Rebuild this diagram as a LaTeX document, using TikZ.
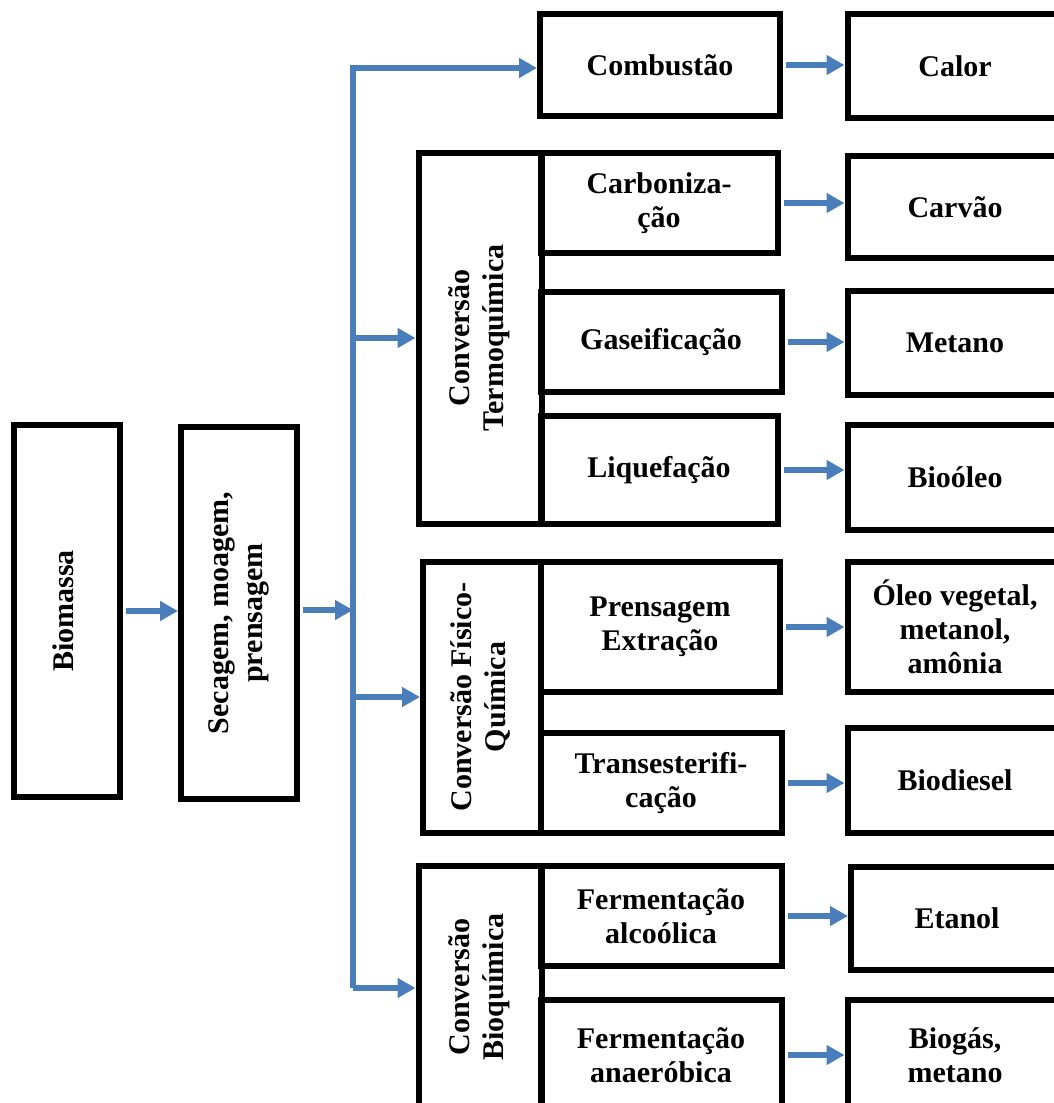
\documentclass[tikz,border=0pt]{standalone}
\usepackage{fontspec}
\setmainfont{Liberation Serif}
\usepackage{graphicx}
\usetikzlibrary{arrows.meta,positioning}
\definecolor{flowblue}{RGB}{74,126,187}
\newcommand{\vtext}[1]{\rotatebox{90}{\begin{tabular}{@{}c@{}}#1\end{tabular}}}

\begin{document}
\begin{tikzpicture}[x=1pt, y=-1pt, font=\fontsize{30}{34}\selectfont\bfseries]
    \tikzstyle{box}   = [draw, rectangle, line width=6pt, align=center, inner sep=0pt]
    \tikzstyle{stage} = [box, minimum width=240pt]
    \tikzstyle{prod}  = [box, minimum width=215pt]
    \tikzstyle{arrow} = [line width=6pt, flowblue, -{Triangle[length=18pt,width=19pt]}]

    \useasboundingbox (0,0) rectangle (1053,1103);

    % left chain
    \node [box, minimum width=106pt, minimum height=372pt] (bio) at (67,611) {\vtext{Biomassa}};
    \node [box, minimum width=116pt, minimum height=372pt] (sec) at (239,613) {\vtext{Secagem, moagem,\\prensagem}};

    % groups
    \node [box, minimum width=123pt, minimum height=371pt] (termo) at (480,338) {\vtext{Conversão\\Termoquímica}};
    \node [box, minimum width=118pt, minimum height=271pt] (fisqui) at (482,697) {\vtext{Conversão Físico-\\Química}};
    \node [box, minimum width=123pt, minimum height=242pt] (bioqui) at (480,987) {\vtext{Conversão\\Bioquímica}};

    % processes
    \node [stage, minimum height=102pt] (comb) at (660,65) {Combustão};
    \node [stage, minimum height=100pt, minimum width=237pt] (carb) at (659,203) {Carboniza-\\ção};
    \node [stage, minimum height=100pt, minimum width=241pt] (gas) at (661,342) {Gaseificação};
    \node [stage, minimum height=108pt, minimum width=237pt] (liq) at (659,470) {Liquefação};
    \node [stage, minimum height=130pt, minimum width=239pt] (prens) at (660,627) {Prensagem\\Extração};
    \node [stage, minimum height=100pt, minimum width=241pt] (trans) at (661,783) {Transesterifi-\\cação};
    \node [stage, minimum height=100pt, minimum width=241pt] (alco) at (661,916) {Fermentação\\alcoólica};
    \node [stage, minimum height=110pt, minimum width=241pt] (anae) at (661,1055) {Fermentação\\anaeróbica};

    % products
    \node [prod, minimum height=104pt] (calor) at (955,66) {Calor};
    \node [prod, minimum height=102pt] (carvao) at (955,207) {Carvão};
    \node [prod, minimum height=104pt] (metano) at (955,343) {Metano};
    \node [prod, minimum height=105pt] (bioleo) at (955,477) {Bioóleo};
    \node [prod, minimum height=130pt] (oleo) at (955,627) {Óleo vegetal,\\metanol,\\amônia};
    \node [prod, minimum height=105pt] (diesel) at (955,780) {Biodiesel};
    \node [prod, minimum height=103pt, minimum width=212pt] (etanol) at (957,918) {Etanol};
    \node [prod, minimum height=110pt] (biogas) at (955,1055) {Biogás,\\metano};

    % bus
    \coordinate (hub) at (353,610);
    \coordinate (bustop) at (353,68);
    \coordinate (busbot) at (353,988);

    \draw [arrow, shorten <=3pt] (bio.east) -- (sec.west |- bio.east);
    \draw [arrow, shorten <=3pt] (sec.east |- hub) -- (hub);
    \draw [arrow] (busbot) -- (bustop) -- (bustop -| comb.west);
    \draw [arrow] (hub |- termo.west) -- (termo.west);
    \draw [arrow] (hub |- fisqui.west) -- (fisqui.west);
    \draw [arrow] (busbot) -- (busbot -| bioqui.west);

    \draw [arrow, shorten <=3pt] (comb.east) -- (comb.east -| calor.west);
    \draw [arrow, shorten <=3pt] (carb.east) -- (carb.east -| carvao.west);
    \draw [arrow, shorten <=3pt] (gas.east) -- (gas.east -| metano.west);
    \draw [arrow, shorten <=3pt] (liq.east) -- (liq.east -| bioleo.west);
    \draw [arrow, shorten <=3pt] (prens.east) -- (prens.east -| oleo.west);
    \draw [arrow, shorten <=3pt] (trans.east) -- (trans.east -| diesel.west);
    \draw [arrow, shorten <=3pt] (alco.east) -- (alco.east -| etanol.west);
    \draw [arrow, shorten <=3pt] (anae.east) -- (anae.east -| biogas.west);
\end{tikzpicture}
\end{document}
